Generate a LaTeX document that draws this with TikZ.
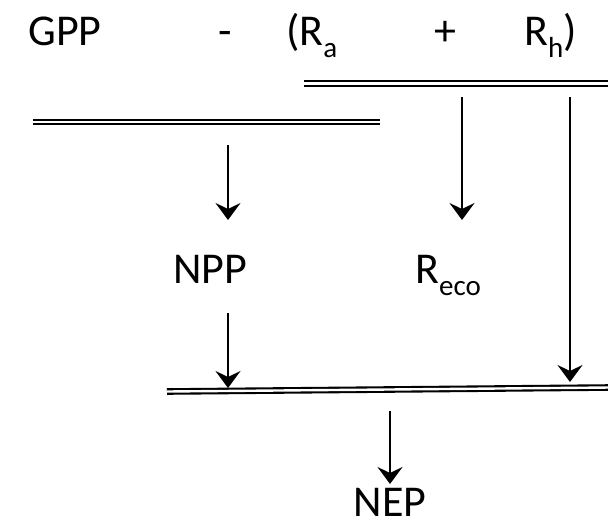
\documentclass[tikz,border=0pt]{standalone}
\usepackage{fontspec}
\setmainfont{Carlito}
\usetikzlibrary{arrows.meta}
\newcommand{\mysub}[1]{\raisebox{-0.28em}{\fontsize{29}{30}\selectfont #1}}
\tikzset{
  lbl/.style={inner sep=0pt, anchor=base, font=\fontsize{44}{50}\selectfont},
  dbl/.style={line width=2.1pt, double=white, double distance=2.4pt},
  arr/.style={line width=2pt, -{Stealth[length=17pt,width=25pt,inset=6pt]}}
}
\begin{document}
\begin{tikzpicture}[x=1pt,y=-1pt]
\useasboundingbox (0,0) rectangle (608,528);
% texts
\node[lbl] (gpp) at (65,45) {GPP};
\node[lbl] (minus) at (225,45) {-};
\node[lbl, anchor=base west] (ra) at (286,45) {(R\mysub{a}};
\node[lbl] (plus) at (445,45) {+};
\node[lbl, anchor=base west] (rh) at (524,45) {R\mysub{h})};
\node[lbl] (npp) at (210,283) {NPP};
\node[lbl, anchor=base west] (reco) at (415,283) {R\mysub{eco}};
\node[lbl] (nep) at (390,516) {NEP};
% double lines
\coordinate (t1) at (304,83.5);
\coordinate (t2) at (610,83.5);
\coordinate (l1) at (33,122);
\coordinate (l2) at (380,122);
\coordinate (b1) at (167,391.5);
\coordinate (b2) at (610,387.5);
\draw[dbl] (t1) -- (t2);
\draw[dbl] (l1) -- (l2);
\draw[dbl] (b1) -- (b2);
% arrow endpoints
\coordinate (a1s) at (462,97);  \coordinate (a1e) at (462,220);
\coordinate (a2s) at (570,97);  \coordinate (a2e) at (570,382);
\coordinate (a3s) at (228,145); \coordinate (a3e) at (228,220);
\coordinate (a4s) at (228,313); \coordinate (a4e) at (228,388);
\coordinate (a5s) at (390,411); \coordinate (a5e) at (390,484);
\draw[arr] (a1s) -- (a1e);
\draw[arr] (a2s) -- (a2e);
\draw[arr] (a3s) -- (a3e);
\draw[arr] (a4s) -- (a4e);
\draw[arr] (a5s) -- (a5e);
\end{tikzpicture}
\end{document}
